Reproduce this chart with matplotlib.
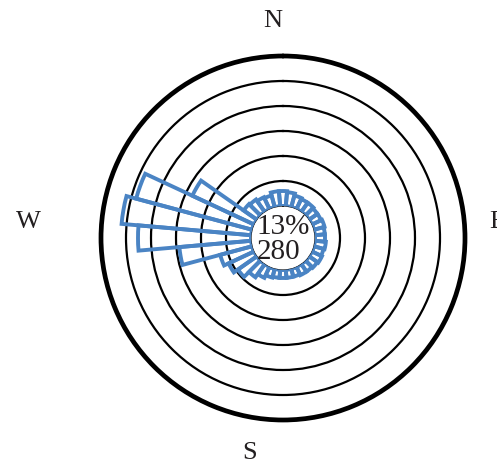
import numpy as np
import matplotlib
matplotlib.use("Agg")
import matplotlib.pyplot as plt

# Data: wind direction (degrees) and frequency (%)
directions = [0, 10, 20, 30, 40, 50, 60, 70, 80, 90, 100, 110, 120, 130, 140, 150, 160, 170,
              180, 190, 200, 210, 220, 230, 240, 250, 260, 270, 280, 290, 300, 310, 320, 330, 340, 350]
frequency = [1.5, 1.4, 1.2, 1.1, 1.1, 1.0, 1.0, 1.1, 1.0, 1.0, 1.1, 1.0, 1.1, 1.0, 0.9, 0.9, 0.8, 0.8,
             0.8, 0.8, 0.9, 1.2, 1.6, 2.3, 2.8, 3.3, 7.2, 11.3, 13.0, 12.0, 6.8, 1.6, 1.5, 1.3, 1.2, 1.5]
ring_levels = [2.5, 5.0, 7.5, 10.0, 12.5]
r_max = 15.0
compass_labels = ["N", "E", "S", "W"]
center_lines = ["13%", "280"]

W, H = 497, 466
fig = plt.figure(figsize=(W / 100, H / 100), dpi=100)
fig.patch.set_facecolor("white")

cx, cy, R = 283, 238, 182
ax = fig.add_axes([(cx - R) / W, (H - cy - R) / H, 2 * R / W, 2 * R / H], projection="polar")
ax.set_theta_zero_location("N")
ax.set_theta_direction(-1)
ax.set_ylim(0, r_max)
ax.set_rorigin(-3.2)

theta = np.deg2rad(directions)
ax.bar(theta, frequency, width=np.deg2rad(10), bottom=0, fill=False,
       edgecolor="#4a84c4", linewidth=2.8, zorder=3)

ax.set_yticks(ring_levels)
ax.set_yticklabels([])
ax.set_xticks([])
ax.tick_params(length=0)
ax.yaxis.grid(True, color="black", linewidth=1.6, linestyle="-")
ax.xaxis.grid(False)
sp = ax.spines["polar"]
sp.set_linewidth(3.4)
sp.set_color("black")
sp.set_capstyle("round")
sp.set_joinstyle("round")
ax.spines["inner"].set_visible(False)
ax.set_facecolor("white")

serif = ["Liberation Serif", "DejaVu Serif"]
txtcol = "#231f20"
pos = {"N": (273, 21, "center"), "E": (489, 222, "left"),
       "S": (250, 453, "center"), "W": (28, 222, "center")}
for lab in compass_labels:
    x, y, ha = pos[lab]
    fig.text(x / W, 1 - y / H, lab, ha=ha, va="center", fontsize=19,
             family=serif, color=txtcol)

fig.text(283 / W, 1 - 227 / H, center_lines[0], ha="center", va="center",
         fontsize=21, family=serif, color=txtcol, zorder=5)
fig.text(279 / W, 1 - 252 / H, center_lines[1], ha="center", va="center",
         fontsize=21, family=serif, color=txtcol, zorder=5)

fig.savefig("out.png", dpi=100, facecolor="white")
